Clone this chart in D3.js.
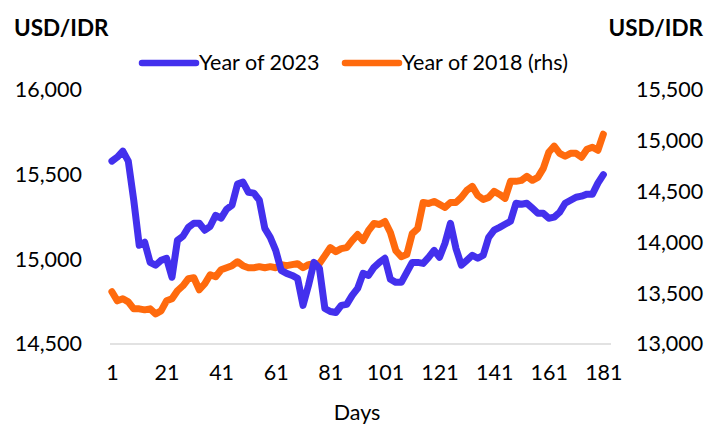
<!DOCTYPE html>
<html>
<head>
<meta charset="utf-8">
<script src="https://cdn.jsdelivr.net/npm/d3@7"></script>
<style>
  html, body { margin: 0; padding: 0; background: #fff; }
  svg text { font-family: Lato, "Open Sans", sans-serif; fill: #000; }
</style>
</head>
<body>
<svg id="chart" width="717" height="425"></svg>
<script>
// ---- Data ----
const days = d3.range(1, 182, 2); // day 1, 3, 5, ..., 181
const usdIdr2023 = [
  15580, 15604, 15639, 15580, 15349, 15083, 15101, 14982, 14965, 14994,
  15006, 14894, 15112, 15136, 15189, 15213, 15213, 15172, 15195, 15260,
  15243, 15296, 15320, 15444, 15456, 15396, 15391, 15349, 15183, 15130,
  15053, 14935, 14917, 14905, 14888, 14728, 14846, 14982, 14947, 14710,
  14692, 14686, 14728, 14734, 14787, 14828, 14917, 14905, 14953, 14982,
  15006, 14882, 14864, 14864, 14923, 14982, 14982, 14976, 15012, 15053,
  15012, 15095, 15213, 15065, 14965, 14994, 15024, 15006, 15024, 15130,
  15172, 15189, 15207, 15225, 15331, 15325, 15331, 15302, 15272, 15272,
  15243, 15249, 15278, 15331, 15349, 15367, 15373, 15385, 15385, 15450,
  15500
];
const usdIdr2018 = [
  13514, 13425, 13445, 13415, 13346, 13346, 13336, 13346, 13297, 13326,
  13425, 13445, 13524, 13573, 13642, 13652, 13534, 13593, 13682, 13662,
  13731, 13751, 13771, 13810, 13771, 13751, 13751, 13761, 13751, 13761,
  13751, 13781, 13771, 13781, 13791, 13751, 13781, 13791, 13791, 13870,
  13949, 13909, 13939, 13949, 14018, 14077, 14018, 14117, 14186, 14176,
  14206, 14097, 13919, 13860, 13880, 14087, 14136, 14393, 14383, 14403,
  14374, 14344, 14393, 14393, 14443, 14512, 14551, 14462, 14423, 14443,
  14502, 14472, 14433, 14601, 14601, 14611, 14650, 14611, 14640, 14729,
  14887, 14947, 14877, 14848, 14877, 14877, 14838, 14917, 14937, 14907,
  15065
];
const xTicks = [1, 21, 41, 61, 81, 101, 121, 141, 161, 181];
const leftTicks = [14500, 15000, 15500, 16000];
const rightTicks = [13000, 13500, 14000, 14500, 15000, 15500];
const seriesNames = ["Year of 2023", "Year of 2018 (rhs)"];
const axisTitle = "USD/IDR";
const xTitle = "Days";

// ---- Layout ----
const svg = d3.select("#chart");
const colors = ["#4330ED", "#FF6A0D"];
const fontSize = 21.5;

const x = d3.scaleLinear().domain([0.3, 183.8]).range([110, 611]);
const yL = d3.scaleLinear().domain([14500, 16000]).range([344, 90]);
const yR = d3.scaleLinear().domain([13000, 15500]).range([344, 90]);

// baseline (category axis line)
svg.append("line")
  .attr("x1", x.range()[0]).attr("x2", x.range()[1])
  .attr("y1", yL(14500)).attr("y2", yL(14500))
  .attr("stroke", "#d9d9d9").attr("stroke-width", 1.3);

// left axis
const gL = svg.append("g").attr("transform", "translate(93,0)")
  .call(d3.axisLeft(yL).tickValues(leftTicks).tickFormat(d3.format(",")).tickSize(0).tickPadding(11));
gL.select(".domain").remove();
gL.selectAll("text").style("font-size", fontSize + "px");

// right axis
const gR = svg.append("g").attr("transform", "translate(625,0)")
  .call(d3.axisRight(yR).tickValues(rightTicks).tickFormat(d3.format(",")).tickSize(0).tickPadding(11));
gR.select(".domain").remove();
gR.selectAll("text").style("font-size", fontSize + "px");

// bottom axis
const gB = svg.append("g").attr("transform", "translate(0," + yL(14500) + ")")
  .call(d3.axisBottom(x).tickValues(xTicks).tickFormat(d3.format("d")).tickSize(0).tickPadding(21));
gB.select(".domain").remove();
gB.selectAll("text").style("font-size", fontSize + "px");

// axis titles
svg.append("text").attr("x", 14).attr("y", 36)
  .style("font-size", "22.5px").style("font-weight", "bold").text(axisTitle);
svg.append("text").attr("x", 703).attr("y", 36).attr("text-anchor", "end")
  .style("font-size", "22.5px").style("font-weight", "bold").text(axisTitle);
svg.append("text").attr("x", 357).attr("y", 420).attr("text-anchor", "middle")
  .style("font-size", fontSize + "px").text(xTitle);

// lines
const lineL = d3.line().x((d, i) => x(days[i])).y(d => yL(d));
const lineR = d3.line().x((d, i) => x(days[i])).y(d => yR(d));

svg.append("path").datum(usdIdr2018)
  .attr("d", lineR).attr("fill", "none")
  .attr("stroke", colors[1]).attr("stroke-width", 7)
  .attr("stroke-linejoin", "round").attr("stroke-linecap", "round");
svg.append("path").datum(usdIdr2023)
  .attr("d", lineL).attr("fill", "none")
  .attr("stroke", colors[0]).attr("stroke-width", 7)
  .attr("stroke-linejoin", "round").attr("stroke-linecap", "round");

// legend
const legend = [
  { name: seriesNames[0], color: colors[0], x0: 142 },
  { name: seriesNames[1], color: colors[1], x0: 345 }
];
const lg = svg.append("g");
legend.forEach(l => {
  lg.append("line").attr("x1", l.x0).attr("x2", l.x0 + 54)
    .attr("y1", 63).attr("y2", 63)
    .attr("stroke", l.color).attr("stroke-width", 6.5).attr("stroke-linecap", "round");
  lg.append("text").attr("x", l.x0 + 57).attr("y", 70)
    .style("font-size", fontSize + "px").text(l.name);
});
</script>
</body>
</html>
